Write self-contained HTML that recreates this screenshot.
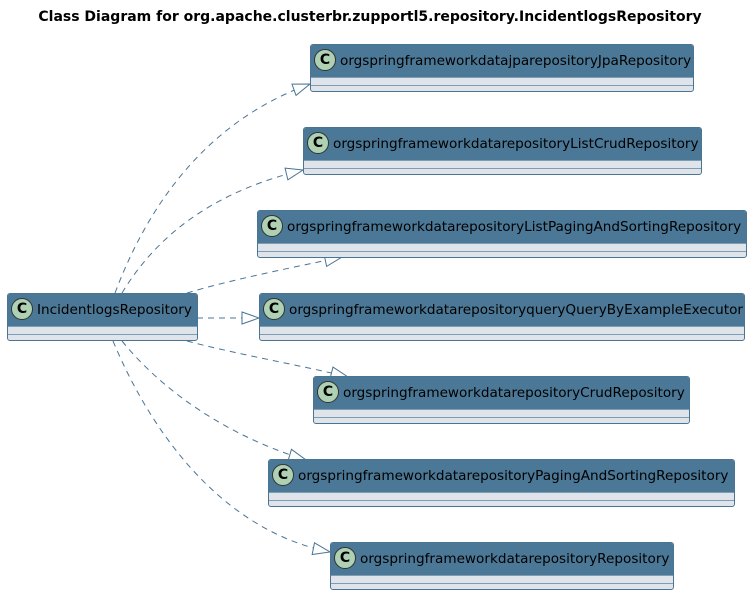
<!DOCTYPE html>
<html><head><meta charset="utf-8"><style>
body{margin:0;background:#fff;width:752px;height:596px;overflow:hidden;position:relative;font-family:"DejaVu Sans","Liberation Sans",sans-serif}
.t{position:absolute;top:9px;left:-6px;width:752px;text-align:center;font-weight:bold;font-size:14px;color:#000}
.b{position:absolute;height:48px;border:1px solid #4a7494;border-radius:3px;background:#dfe4eb;box-sizing:border-box;overflow:hidden}
.h{height:32px;background:#4b7896;border-bottom:1px solid #7f9cb3;position:relative}
.h span{position:absolute;left:29px;top:8px;font-size:13.6px;color:#000;white-space:nowrap}
.c{position:absolute;left:3px;top:4px;width:22px;height:22px;border-radius:50%;background:#add1b2;border:1px solid #333;box-sizing:border-box;font-weight:bold;font-size:14px;text-align:center;line-height:20px}
.s{height:7px;border-bottom:1px solid #7f9cb3}
svg{position:absolute;left:0;top:0}
</style></head><body>
<div class="t">Class Diagram for org.apache.clusterbr.zupportl5.repository.IncidentlogsRepository</div>
<svg width="752" height="596">
<defs><marker id="a" markerWidth="20" markerHeight="14" refX="18" refY="7" orient="auto" markerUnits="userSpaceOnUse"><path d="M1,1 L18,7 L1,13 Z" fill="#fff" stroke="#4a7494"/></marker></defs>
<g fill="none" stroke="#4a7494" stroke-dasharray="6,5" marker-end="url(#a)">
<path d="M115,293 C150,200 210,120 310,84"/>
<path d="M122,293 C160,230 220,190 303,170"/>
<path d="M187,293 C230,280 290,268 342,257"/>
<path d="M197,318 L259,318"/>
<path d="M187,341 C240,355 300,365 348,377"/>
<path d="M122,341 C170,400 240,440 306,460"/>
<path d="M113,341 C150,430 220,530 330,552"/>
</g></svg>
<div class="b" style="left:7px;top:293px;width:191px"><div class="h"><div class="c">C</div><span>IncidentlogsRepository</span></div><div class="s"></div></div>
<div class="b" style="left:310px;top:44px;width:384px"><div class="h"><div class="c">C</div><span>orgspringframeworkdatajparepositoryJpaRepository</span></div><div class="s"></div></div>
<div class="b" style="left:303px;top:127px;width:399px"><div class="h"><div class="c">C</div><span>orgspringframeworkdatarepositoryListCrudRepository</span></div><div class="s"></div></div>
<div class="b" style="left:257px;top:210px;width:490px"><div class="h"><div class="c">C</div><span>orgspringframeworkdatarepositoryListPagingAndSortingRepository</span></div><div class="s"></div></div>
<div class="b" style="left:259px;top:293px;width:486px"><div class="h"><div class="c">C</div><span>orgspringframeworkdatarepositoryqueryQueryByExampleExecutor</span></div><div class="s"></div></div>
<div class="b" style="left:313px;top:376px;width:377px"><div class="h"><div class="c">C</div><span>orgspringframeworkdatarepositoryCrudRepository</span></div><div class="s"></div></div>
<div class="b" style="left:268px;top:459px;width:467px"><div class="h"><div class="c">C</div><span>orgspringframeworkdatarepositoryPagingAndSortingRepository</span></div><div class="s"></div></div>
<div class="b" style="left:330px;top:542px;width:344px"><div class="h"><div class="c">C</div><span>orgspringframeworkdatarepositoryRepository</span></div><div class="s"></div></div>
</body></html>
